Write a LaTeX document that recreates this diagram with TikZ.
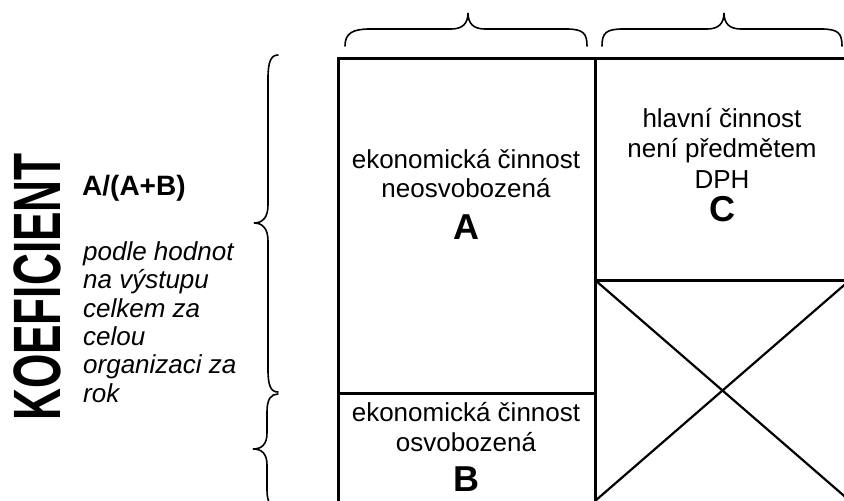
\documentclass[tikz,border=0pt]{standalone}
\usepackage{fontspec}
\setmainfont{Liberation Sans}
\usepackage{graphicx}
\begin{document}
\begin{tikzpicture}[x=1pt,y=-1pt,
  boxline/.style={line width=3pt, line join=miter},
  crossline/.style={line width=2.2pt},
  bracket/.style={line width=1.6pt, line cap=round},
  celltext/.style={font=\fontsize{26}{30}\selectfont, anchor=base, inner sep=0pt},
  bigletter/.style={font=\fontsize{36}{40}\selectfont\bfseries, anchor=base, inner sep=0pt},
  notetext/.style={font=\fontsize{26}{28}\selectfont\itshape, anchor=base west, inner sep=0pt}]
\useasboundingbox (0,0) rectangle (844,501);
\clip (0,0) rectangle (844,501);

% grid of the three cells
\coordinate (tl) at (338.5,58.5);
\coordinate (tm) at (595,58.5);
\coordinate (tr) at (850,58.5);
\coordinate (bl) at (338.5,503);
\coordinate (bm) at (595,503);
\coordinate (br) at (850,503);
\coordinate (ab) at (338.5,393);
\coordinate (abm) at (595,393);
\coordinate (cx) at (595,280);
\coordinate (cxr) at (850,280);

\draw[boxline] (bl) -- (tl) -- (tr) -- (br);
\draw[boxline] (tm) -- (bm);
\draw[boxline] (ab) -- (abm);
\draw[boxline] (cx) -- (cxr);
\draw[crossline] (cx) -- (850,501) (595,501) -- (cxr);

% braces above the columns
\draw[bracket] (345,46) .. controls (345,33) and (353,29) .. (370,29) -- (451,29)
  .. controls (462,29) and (468,24) .. (468,13)
  .. controls (468,24) and (474,29) .. (485,29) -- (566,29)
  .. controls (583,29) and (587,33) .. (587,46);
\draw[bracket] (602,46) .. controls (602,33) and (606,29) .. (623,29) -- (707,29)
  .. controls (718,29) and (724,24) .. (724,13)
  .. controls (724,24) and (730,29) .. (741,29) -- (821,29)
  .. controls (838,29) and (842,33) .. (842,46);

% braces on the left side
\draw[bracket] (278,55) .. controls (271,55) and (268,62) .. (268,78) -- (268,205)
  .. controls (268,217) and (263,223) .. (254,223)
  .. controls (263,223) and (268,229) .. (268,241) -- (268,370)
  .. controls (268,386) and (271,392) .. (278,392);
\draw[bracket] (278,394) .. controls (271,394) and (267,399) .. (267,412) -- (267,433)
  .. controls (267,444) and (262,449) .. (253,449)
  .. controls (262,449) and (267,454) .. (267,465) -- (267,490)
  .. controls (267,503) and (271,507) .. (278,507);

% cell A
\node[celltext] (a1) at (466,168) {ekonomická činnost};
\node[celltext] (a2) at (466,197) {neosvobozená};
\node[bigletter] (a3) at (466,239) {A};
% cell B
\node[celltext] (b1) at (466,421) {ekonomická činnost};
\node[celltext] (b2) at (466,451) {osvobozená};
\node[bigletter] (b3) at (466,491) {B};
% cell C
\node[celltext] (c1) at (722,127) {hlavní činnost};
\node[celltext] (c2) at (722,157) {není předmětem};
\node[celltext] (c3) at (722,188) {DPH};
\node[bigletter] (c4) at (722,221) {C};

% coefficient label
\node[rotate=90, inner sep=0pt] (koef) at (37,287)
  {\scalebox{0.66}[1]{\fontsize{67}{70}\selectfont\bfseries KOEFICIENT}};
\node[anchor=base west, inner sep=0pt, font=\fontsize{28}{32}\selectfont\bfseries] (frac) at (82,195) {A/(A+B)};
\node[notetext] (n1) at (83,260) {podle hodnot};
\node[notetext] (n2) at (83,288) {na výstupu};
\node[notetext] (n3) at (83,317) {celkem za};
\node[notetext] (n4) at (83,345) {celou};
\node[notetext] (n5) at (83,373) {organizaci za};
\node[notetext] (n6) at (83,402) {rok};
\end{tikzpicture}
\end{document}
